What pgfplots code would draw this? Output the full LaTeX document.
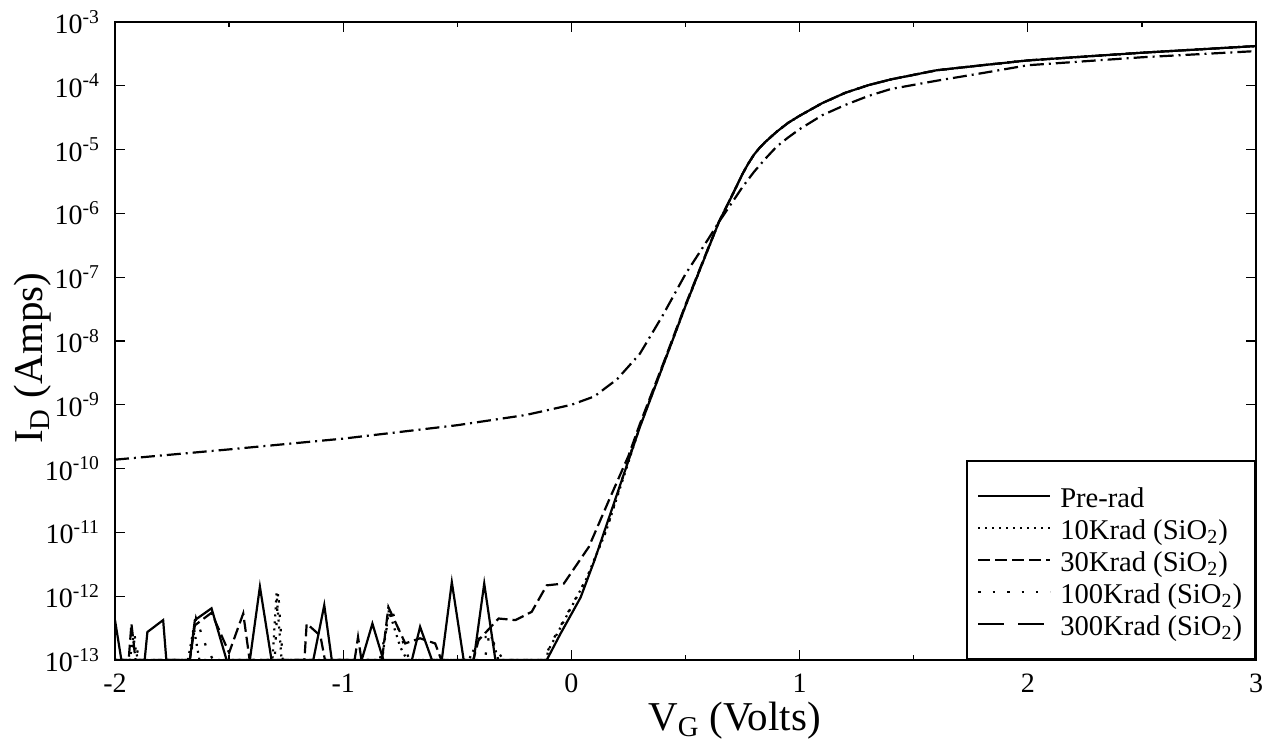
\documentclass[border=0pt]{standalone}
\usepackage{fontspec}
\setmainfont{Liberation Serif}
\usepackage{pgfplots}
\pgfplotsset{compat=1.18}
\begin{document}
\begin{tikzpicture}
\begin{axis}[
  scale only axis, width=570.5pt, height=319pt,
  xmin=-2, xmax=3, ymin=1e-13, ymax=1e-3,
  ymode=log, log basis y=10,
  xtick={-2,-1,0,1,2,3}, xticklabels={-2,-1,0,1,2,3}, minor x tick num=1,
  ytick distance=10,
  yticklabel={\pgfmathparse{int(round(\tick))}10\textsuperscript{\pgfmathresult}},
  tick align=inside, major tick length=5pt, minor tick length=2.5pt,
  every tick/.style={black, line width=0.6pt},
  axis line style={line width=1pt},
  ticklabel style={font=\fontsize{14}{16}\selectfont},
  xticklabel style={anchor=base, yshift=-16.3pt, inner sep=0pt},
  yticklabel style={xshift=-4pt},
  xlabel={V\textsubscript{G} (Volts)}, ylabel={I\textsubscript{D} (Amps)},
  label style={font=\fontsize{20.5}{24}\selectfont},
  xlabel style={at={(axis description cs:0.543,-0.1105)}, anchor=base, inner sep=0pt},
  ylabel style={at={(axis description cs:-0.0719,0.473)}, anchor=center},
  legend style={at={(1,0)}, anchor=south east, draw=black, line width=0.9pt, fill=white,
    font=\fontsize{14.3}{16}\selectfont, inner xsep=5pt, inner ysep=10.5pt, row sep=2pt,
    column sep=3pt,
    cells={anchor=west}, nodes={inner sep=1.5pt, text height=11pt, text depth=0pt}},
  legend image code/.code={\draw[#1] (0pt,0pt) -- (36pt,0pt);},
  every axis plot/.append style={line width=1.1pt, black},
]
\coordinate (SW) at (rel axis cs:0,0);
\coordinate (NE) at (rel axis cs:1,1);

% Pre-rad (solid)
\addplot[solid, forget plot] coordinates {
(-2.0,4.22e-13) (-1.972,1e-13) (-1.87,1e-13) (-1.858,2.75e-13) (-1.789,4.22e-13) (-1.775,1e-13)
(-1.672,1e-13) (-1.650,4.22e-13) (-1.577,6.46e-13) (-1.511,1e-13)
(-1.409,1e-13) (-1.365,1.41e-12) (-1.314,1e-13)
(-1.131,1e-13) (-1.083,7.24e-13) (-1.050,1e-13)
(-0.919,1e-13) (-0.872,3.72e-13) (-0.824,1e-13)
(-0.699,1e-13) (-0.663,3.31e-13) (-0.611,1e-13)
(-0.568,1e-13) (-0.524,1.66e-12) (-0.472,1e-13)
(-0.428,1e-13) (-0.382,1.58e-12) (-0.333,1e-13)
(-0.108,1e-13) (-0.05,2.5e-13) (0.04,9.5e-13) (0.1,3.55e-12) (0.2,3.98e-11) (0.3,4.47e-10)
(0.4,3.98e-9) (0.5,3.55e-8) (0.6,2.82e-7) (0.647,7.4e-7) (0.7,1.78e-6) (0.75,4.17e-6)
(0.775,6.03e-6) (0.8,8.32e-6) (0.825,1.07e-5) (0.85,1.32e-5) (0.9,1.91e-5) (0.95,2.63e-5)
(1.0,3.39e-5) (1.1,5.37e-5) (1.2,7.76e-5) (1.3,1.02e-4) (1.4,1.26e-4) (1.6,1.75e-4)
(1.8,2.1e-4) (2.0,2.5e-4) (2.5,3.3e-4) (3.0,4.2e-4)
};

% 10Krad (fine dots)
\addplot[dash pattern=on 1pt off 2.5pt, forget plot] coordinates {
(-2.0,1e-13) (-1.935,1e-13) (-1.92,2.3e-13) (-1.90,1e-13)
(-1.68,1e-13) (-1.655,3.2e-13) (-1.63,1e-13)
(-1.31,1e-13) (-1.292,1.1e-12) (-1.27,1e-13)
(-0.83,1e-13) (-0.80,6.0e-13) (-0.75,1.6e-13) (-0.72,1e-13)
(-0.45,1e-13) (-0.40,2.3e-13) (-0.35,2.3e-13) (-0.32,1e-13)
(-0.112,1e-13) (-0.1,1.45e-13) (0.063,1.78e-12) (0.15,1.0e-11) (0.25,1.26e-10) (0.3,4.6e-10)
(0.4,4.0e-9) (0.5,3.55e-8) (0.6,2.82e-7) (0.647,7.4e-7) (0.7,1.78e-6) (0.75,4.17e-6)
(0.775,6.03e-6) (0.8,8.32e-6) (0.825,1.07e-5) (0.85,1.32e-5) (0.9,1.91e-5) (0.95,2.63e-5)
(1.0,3.39e-5) (1.1,5.37e-5) (1.2,7.76e-5) (1.3,1.02e-4) (1.4,1.26e-4) (1.6,1.75e-4)
(1.8,2.1e-4) (2.0,2.5e-4) (2.5,3.3e-4) (3.0,4.2e-4)
};

% 30Krad (dashed)
\addplot[dash pattern=on 6pt off 2.5pt, forget plot] coordinates {
(-2.0,1e-13) (-1.94,1e-13) (-1.928,3.72e-13) (-1.91,1e-13)
(-1.672,1e-13) (-1.650,3.5e-13) (-1.577,5.5e-13) (-1.50,1.3e-13) (-1.438,5.37e-13) (-1.41,1e-13)
(-1.17,1e-13) (-1.160,3.72e-13) (-1.10,2.4e-13) (-1.08,1e-13)
(-0.95,1e-13) (-0.935,2.29e-13) (-0.92,1e-13)
(-0.83,1e-13) (-0.802,6.76e-13) (-0.728,1.82e-13) (-0.663,2.19e-13) (-0.597,1.82e-13) (-0.57,1e-13)
(-0.43,1e-13) (-0.407,2.04e-13) (-0.319,4.47e-13) (-0.245,4.22e-13) (-0.174,5.69e-13)
(-0.108,1.48e-12) (-0.033,1.58e-12) (0.076,5.89e-12) (0.164,3.16e-11) (0.25,1.58e-10) (0.3,5.0e-10)
(0.4,4.2e-9) (0.5,3.7e-8) (0.6,2.9e-7) (0.647,7.5e-7) (0.7,1.78e-6) (0.75,4.17e-6)
(0.775,6.03e-6) (0.8,8.32e-6) (0.825,1.07e-5) (0.85,1.32e-5) (0.9,1.91e-5) (0.95,2.63e-5)
(1.0,3.39e-5) (1.1,5.37e-5) (1.2,7.76e-5) (1.3,1.02e-4) (1.4,1.26e-4) (1.6,1.75e-4)
(1.8,2.1e-4) (2.0,2.5e-4) (2.5,3.3e-4) (3.0,4.2e-4)
};

% 100Krad (sparse dots)
\addplot[dash pattern=on 1.2pt off 6pt, forget plot] coordinates {
(-2.0,1e-13) (-1.93,1e-13) (-1.915,2.5e-13) (-1.895,1e-13)
(-1.67,1e-13) (-1.645,4.5e-13) (-1.60,1.6e-13) (-1.57,1e-13)
(-1.30,1e-13) (-1.285,1.2e-12) (-1.265,1e-13)
(-0.84,1e-13) (-0.79,6.5e-13) (-0.74,2e-13) (-0.71,1e-13)
(-0.38,1e-13) (-0.36,2.5e-13) (-0.30,1e-13)
(-0.12,1e-13) (-0.09,1.8e-13) (0.07,2.0e-12) (0.16,1.3e-11) (0.25,1.4e-10) (0.3,4.6e-10)
(0.4,4.0e-9) (0.5,3.55e-8) (0.6,2.82e-7) (0.647,7.4e-7) (0.7,1.78e-6) (0.75,4.17e-6)
(0.775,6.03e-6) (0.8,8.32e-6) (0.825,1.07e-5) (0.85,1.32e-5) (0.9,1.91e-5) (0.95,2.63e-5)
(1.0,3.39e-5) (1.1,5.37e-5) (1.2,7.76e-5) (1.3,1.02e-4) (1.4,1.26e-4) (1.6,1.75e-4)
(1.8,2.1e-4) (2.0,2.5e-4) (2.5,3.3e-4) (3.0,4.2e-4)
};

% 300Krad (long dash with dots, high leakage)
\addplot[dash pattern=on 7pt off 2.5pt on 1pt off 2.5pt, forget plot] coordinates {
(-2.0,1.38e-10) (-1.5,2.0e-10) (-1.0,2.95e-10) (-0.5,4.79e-10) (-0.2,6.92e-10) (0.0,1.0e-9)
(0.1,1.35e-9) (0.2,2.51e-9) (0.3,6.31e-9) (0.4,2.51e-8) (0.5,1.12e-7) (0.6,3.98e-7)
(0.647,7.4e-7) (0.7,1.41e-6) (0.75,2.6e-6) (0.8,4.47e-6) (0.85,7.2e-6) (0.9,1.12e-5)
(0.95,1.55e-5) (1.0,2.09e-5) (1.1,3.47e-5) (1.2,5.01e-5) (1.3,6.9e-5) (1.4,8.91e-5)
(1.6,1.2e-4) (1.8,1.58e-4) (2.0,2.1e-4) (2.5,2.8e-4) (3.0,3.5e-4)
};

\addlegendimage{line width=1pt, solid}
\addlegendimage{line width=1pt, dash pattern=on 1pt off 2.5pt}
\addlegendimage{line width=1pt, dash pattern=on 6pt off 2.5pt}
\addlegendimage{line width=1pt, dash pattern=on 1.2pt off 6pt}
\addlegendimage{line width=1pt, dash pattern=on 13pt off 7pt}
\legend{Pre-rad, 10Krad (SiO\textsubscript{2}), 30Krad (SiO\textsubscript{2}), 100Krad (SiO\textsubscript{2}), 300Krad (SiO\textsubscript{2})}
\end{axis}
\pgfresetboundingbox
\useasboundingbox ([xshift=-57.5pt,yshift=-41pt]SW) rectangle ([xshift=8.5pt,yshift=11pt]NE);
\end{tikzpicture}
\end{document}
